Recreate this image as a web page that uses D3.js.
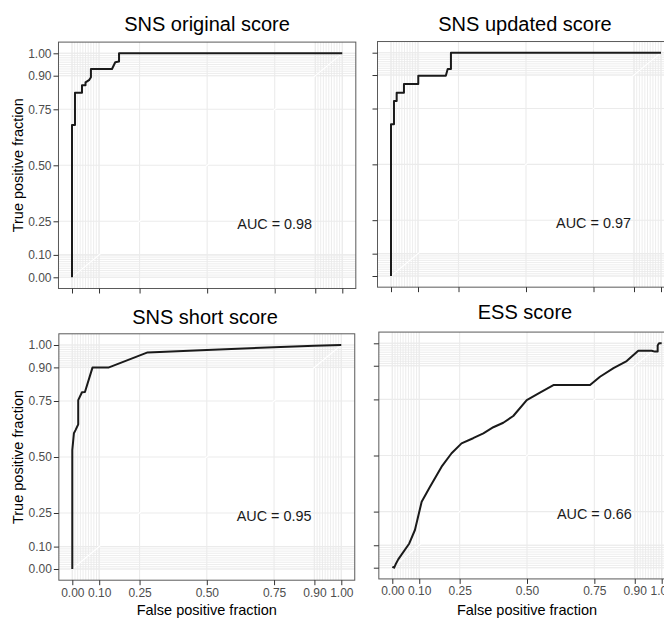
<!DOCTYPE html>
<html>
<head>
<meta charset="utf-8">
<script src="https://cdn.jsdelivr.net/npm/d3@7/dist/d3.min.js"></script>
<style>
  html, body { margin: 0; padding: 0; background: #fff; }
  svg { display: block; font-family: "Liberation Sans", Arial, sans-serif; }
</style>
</head>
<body>
<script>
// ---------- data ----------
const titles = ["SNS original score", "SNS updated score", "SNS short score", "ESS score"];
const aucLabels = ["AUC = 0.98", "AUC = 0.97", "AUC = 0.95", "AUC = 0.66"];
const majorBreaks = [0, 0.1, 0.25, 0.5, 0.75, 0.9, 1];
const tickLabels = ["0.00", "0.10", "0.25", "0.50", "0.75", "0.90", "1.00"];
const minorBreaks = [0, 0.01, 0.02, 0.03, 0.04, 0.05, 0.06, 0.07, 0.08, 0.09, 0.1,
                     0.9, 0.91, 0.92, 0.93, 0.94, 0.95, 0.96, 0.97, 0.98, 0.99, 1];
const xLabel = "False positive fraction";
const yLabel = "True positive fraction";

// ROC curves: [false positive fraction, true positive fraction]
const snsOriginal = [
  [0, 0], [0, 0.68], [0.011, 0.68], [0.011, 0.824], [0.037, 0.824], [0.037, 0.857],
  [0.05, 0.857], [0.05, 0.87], [0.063, 0.88], [0.07, 0.893], [0.07, 0.93],
  [0.148, 0.93], [0.16, 0.96], [0.174, 0.963], [0.174, 1], [1, 1]
];
const snsUpdated = [
  [0, 0], [0, 0.68], [0.011, 0.68], [0.011, 0.784], [0.021, 0.784], [0.021, 0.821],
  [0.048, 0.821], [0.048, 0.86], [0.101, 0.86], [0.101, 0.897], [0.203, 0.897],
  [0.21, 0.927], [0.222, 0.927], [0.222, 1], [1, 1]
];
const snsShort = [
  [0, 0], [0, 0.531], [0.006, 0.606], [0.012, 0.62], [0.022, 0.646], [0.022, 0.754],
  [0.036, 0.789], [0.047, 0.79], [0.075, 0.899], [0.134, 0.899], [0.28, 0.967],
  [0.5, 0.978], [0.75, 0.99], [0.9, 0.997], [1, 1]
];
const essScore = [
  [0, 0.004], [0.007, 0], [0.014, 0.019], [0.022, 0.037], [0.063, 0.108], [0.084, 0.168],
  [0.109, 0.294], [0.14, 0.361], [0.183, 0.45], [0.22, 0.51], [0.257, 0.554],
  [0.3, 0.577], [0.338, 0.599], [0.375, 0.626], [0.412, 0.646], [0.449, 0.676],
  [0.499, 0.747], [0.548, 0.78], [0.598, 0.814], [0.734, 0.814], [0.771, 0.851],
  [0.821, 0.889], [0.87, 0.921], [0.913, 0.967], [0.963, 0.967], [0.975, 0.963],
  [0.985, 0.963], [0.985, 0.99], [0.99, 1], [1, 1]
];
const curves = [snsOriginal, snsUpdated, snsShort, essScore];

// ---------- layout ----------
const W = 664, H = 619;
const layout = [
  { x0: 72,    x1: 342.3, y0: 277.3, y1: 53.3,  tx: 207, ty: 30.5,  yLab: true,  xLab: false },
  { x0: 391,   x1: 661,   y0: 276,   y1: 52.7,  tx: 525, ty: 30.7,  yLab: false, xLab: false },
  { x0: 72.3,  x1: 341.3, y0: 569,   y1: 345,   tx: 205, ty: 324,   yLab: true,  xLab: true },
  { x0: 392.3, x1: 661.7, y0: 567.7, y1: 343.3, tx: 525, ty: 318.5, yLab: false, xLab: true }
];

const svg = d3.select("body").append("svg").attr("width", W).attr("height", H);

layout.forEach((L, i) => {
  const x = d3.scaleLinear().domain([0, 1]).range([L.x0, L.x1]);
  const y = d3.scaleLinear().domain([0, 1]).range([L.y0, L.y1]);
  // 5% expansion like ggplot
  const [px0, px1] = [x(-0.05), x(1.05)];
  const [py0, py1] = [y(-0.05), y(1.05)];
  const g = svg.append("g");

  g.append("rect").attr("x", px0).attr("y", py1).attr("width", px1 - px0).attr("height", py0 - py1)
    .attr("fill", "#fff");

  // minor grid
  minorBreaks.forEach(b => {
    g.append("line").attr("x1", x(b)).attr("x2", x(b)).attr("y1", py0).attr("y2", py1)
      .attr("stroke", "#e8e8e8").attr("stroke-width", 0.8);
    g.append("line").attr("x1", px0).attr("x2", px1).attr("y1", y(b)).attr("y2", y(b))
      .attr("stroke", "#e8e8e8").attr("stroke-width", 0.8);
  });
  // major grid
  majorBreaks.forEach(b => {
    g.append("line").attr("x1", x(b)).attr("x2", x(b)).attr("y1", py0).attr("y2", py1)
      .attr("stroke", "#ebebeb").attr("stroke-width", 1.1);
    g.append("line").attr("x1", px0).attr("x2", px1).attr("y1", y(b)).attr("y2", y(b))
      .attr("stroke", "#ebebeb").attr("stroke-width", 1.1);
  });

  // diagonal guide (white)
  g.append("line").attr("x1", x(0)).attr("y1", y(0)).attr("x2", x(1)).attr("y2", y(1))
    .attr("stroke", "#fff").attr("stroke-width", 1.1);

  // ROC curve
  const line = d3.line().x(d => x(d[0])).y(d => y(d[1]));
  g.append("path").datum(curves[i]).attr("d", line)
    .attr("fill", "none").attr("stroke", "#1a1a1a").attr("stroke-width", 2)
    .attr("stroke-linejoin", "round");

  // AUC annotation
  g.append("text").attr("x", x(0.75)).attr("y", y(0.25) + 7.6)
    .attr("text-anchor", "middle").attr("font-size", 14.4).attr("fill", "#1a1a1a")
    .text(aucLabels[i]);

  // border
  g.append("rect").attr("x", px0).attr("y", py1).attr("width", px1 - px0).attr("height", py0 - py1)
    .attr("fill", "none").attr("stroke", "#5a5a5a").attr("stroke-width", 1);

  // axes
  const yAxis = d3.axisLeft(y).tickValues(majorBreaks).tickSize(5).tickPadding(2)
    .tickFormat((d, k) => L.yLab ? tickLabels[k] : "");
  const ya = g.append("g").attr("transform", `translate(${px0},0)`).call(yAxis);
  const xAxis = d3.axisBottom(x).tickValues(majorBreaks).tickSize(5).tickPadding(3)
    .tickFormat((d, k) => L.xLab ? tickLabels[k] : "");
  const xa = g.append("g").attr("transform", `translate(0,${py0})`).call(xAxis);
  [ya, xa].forEach(a => {
    a.select(".domain").remove();
    a.selectAll(".tick line").attr("stroke", "#333").attr("stroke-width", 1);
    a.selectAll(".tick text").attr("fill", "#4d4d4d").attr("font-size", 12)
      .attr("font-family", "\"Liberation Sans\", Arial, sans-serif");
  });

  // title
  svg.append("text").attr("x", L.tx).attr("y", L.ty).attr("text-anchor", "middle")
    .attr("font-size", 20).attr("fill", "#000").text(titles[i]);

  // axis titles
  if (L.yLab) {
    const cy = (py0 + py1) / 2;
    svg.append("text").attr("transform", `translate(23,${cy}) rotate(-90)`)
      .attr("text-anchor", "middle").attr("font-size", 14.5).attr("fill", "#000").text(yLabel);
  }
  if (L.xLab) {
    svg.append("text").attr("x", (L.x0 + L.x1) / 2).attr("y", 615)
      .attr("text-anchor", "middle").attr("font-size", 14.5).attr("fill", "#000").text(xLabel);
  }
});
</script>
</body>
</html>
